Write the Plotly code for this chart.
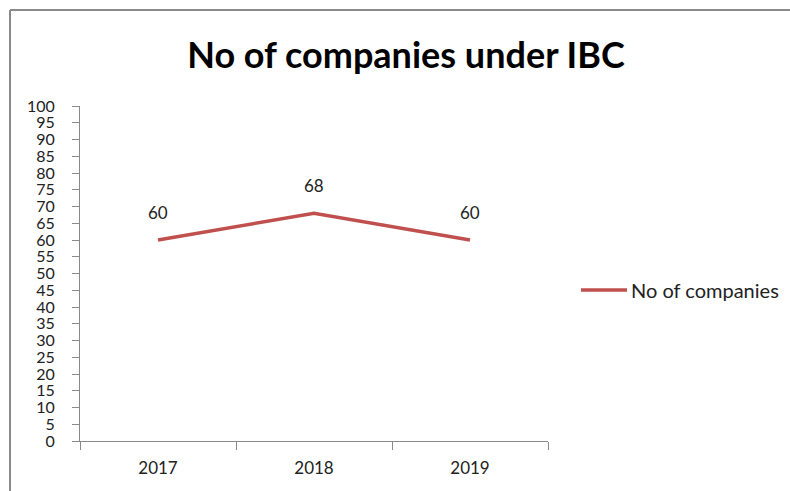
import plotly.graph_objects as go

years = ["2017", "2018", "2019"]
companies = [60, 68, 60]
series_name = "No of companies"
chart_title = "No of companies under IBC"

W, H = 790, 491
L, R, T, B = 80, 242, 106, 50
pw, ph = W - L - R, H - T - B
line_color = "#C0504D"

fig = go.Figure()
fig.add_trace(go.Scatter(
    x=list(range(len(years))), y=companies, mode="lines", name=series_name,
    line=dict(color=line_color, width=3.5), showlegend=False,
))

# value labels above each point
for i, v in enumerate(companies):
    fig.add_annotation(x=i, y=v, xref="x", yref="y", text=str(v), showarrow=False,
                       yshift=28, font=dict(size=17, color="#222"))

# legend: line sample and series name to the right of the plot
ly = (H - B - 290) / ph
fig.add_shape(type="line", xref="paper", yref="paper",
              x0=(581 - L) / pw, x1=(627 - L) / pw, y0=ly, y1=ly,
              line=dict(color=line_color, width=3.5))
fig.add_annotation(x=(629 - L) / pw, y=ly, xref="paper", yref="paper",
                   xanchor="left", yanchor="middle", showarrow=False,
                   text=series_name, font=dict(size=20, color="#222"))

# outer chart frame (top and left edges visible)
fx0 = (10 - L) / pw
fy1 = 1 + (T - 10) / ph
fig.add_shape(type="line", xref="paper", yref="paper",
              x0=fx0, x1=2.0, y0=fy1, y1=fy1,
              line=dict(color="#8a8a8a", width=2))
fig.add_shape(type="line", xref="paper", yref="paper",
              x0=fx0, x1=fx0, y0=fy1, y1=-1.0,
              line=dict(color="#8a8a8a", width=2))

fig.update_layout(
    width=W, height=H,
    margin=dict(l=L, r=R, t=T, b=B),
    paper_bgcolor="white", plot_bgcolor="white",
    font=dict(family="Lato, Open Sans, sans-serif", color="#222"),
    title=dict(text="<b>" + chart_title + "</b>", x=(406 - L) / pw, xref="paper",
               xanchor="center", y=1 - 55 / H, yanchor="middle",
               font=dict(size=36, color="black")),
    showlegend=False,
    xaxis=dict(range=[-0.5, 2.5], showgrid=False, zeroline=False,
               tickmode="array", tickvals=list(range(len(years))), ticktext=years,
               showline=True, linecolor="#8a8a8a", linewidth=1,
               ticks="", tickfont=dict(size=17, color="#222"),
               ticklabelstandoff=12, fixedrange=True),
    xaxis2=dict(overlaying="x", range=[-0.5, 2.5], showgrid=False, zeroline=False,
                tickmode="array", tickvals=[-0.5, 0.5, 1.5, 2.5], ticktext=["", "", "", ""],
                side="bottom", ticks="outside", ticklen=8, tickcolor="#8a8a8a",
                showline=False, fixedrange=True),
    yaxis=dict(range=[0, 100], dtick=5, showgrid=False, zeroline=False,
               showline=True, linecolor="#8a8a8a", linewidth=1,
               ticks="outside", ticklen=7, tickcolor="#8a8a8a",
               tickfont=dict(size=16, color="#222"), ticklabelstandoff=14,
               fixedrange=True),
)
# invisible trace to show the category boundary ticks on the second x axis
fig.add_trace(go.Scatter(x=[None], y=[None], xaxis="x2", showlegend=False, hoverinfo="skip"))

fig.write_html("out.html")
